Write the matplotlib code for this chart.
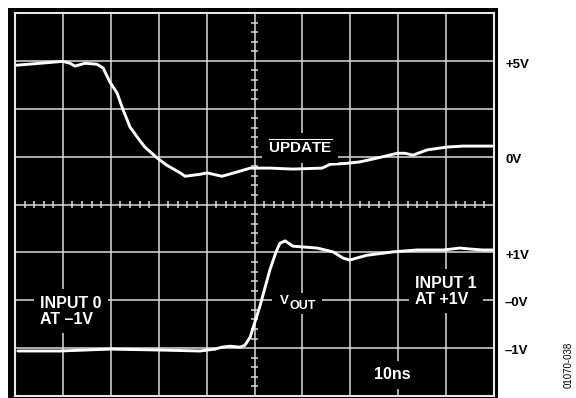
import matplotlib.pyplot as plt
import matplotlib.patches as patches
import numpy as np

plt.rcParams['font.family'] = ['Liberation Sans', 'DejaVu Sans']
plt.rcParams['mathtext.fontset'] = 'custom'
plt.rcParams['mathtext.bf'] = 'Liberation Sans:bold'
plt.rcParams['mathtext.rm'] = 'Liberation Sans'

# time in ns (10 ns/div), amplitude in screen divisions (0..8 from bottom)
update_t = [0.4, 5.2, 10.0, 11.5, 12.5, 14.6, 17.1, 18.4, 19.8, 21.3, 22.6, 24.0,
            25.5, 27.1, 29.7, 31.7, 34.5, 35.5, 38.6, 40.1, 43.2, 46.4, 49.1, 53.2,
            58.0, 64.1, 65.8, 69.3, 72.0, 75.6, 79.8, 81.4, 83.1, 86.0, 90.2, 93.5, 99.6]
update_v = [6.91, 6.95, 6.99, 6.95, 6.89, 6.95, 6.93, 6.85, 6.56, 6.33, 5.97, 5.62,
            5.41, 5.20, 4.97, 4.82, 4.66, 4.59, 4.63, 4.66, 4.59, 4.68, 4.76, 4.76,
            4.74, 4.76, 4.84, 4.86, 4.89, 4.97, 5.07, 5.07, 5.03, 5.14, 5.20, 5.22, 5.22]

vout_t = [0.6, 9.4, 19.8, 30.3, 38.6, 41.8, 43.2, 44.9, 47.0, 48.0, 49.1, 51.2,
          53.2, 54.5, 55.3, 56.4, 58.0, 60.5, 63.1, 66.4, 68.5, 69.9, 72.0, 73.5,
          78.9, 83.9, 89.4, 92.9, 95.0, 97.7, 99.8]
vout_v = [0.94, 0.94, 0.98, 0.96, 0.94, 0.98, 1.02, 1.04, 1.02, 1.06, 1.23, 1.90,
          2.63, 3.01, 3.19, 3.24, 3.13, 3.11, 3.09, 3.01, 2.88, 2.84, 2.90, 2.94,
          3.01, 3.05, 3.05, 3.09, 3.07, 3.05, 3.05]

level_labels = ['+5V', '0V', '+1V', '\u20130V', '\u20131V']
level_pos = [6.92, 4.93, 2.92, 1.94, 0.94]

fig = plt.figure(figsize=(5.76, 3.98), dpi=100)
fig.patch.set_facecolor('white')

# black scope screen behind the graticule
fig.add_artist(patches.Rectangle((8 / 576, 0), 490 / 576, 390 / 398,
                                 transform=fig.transFigure, facecolor='black',
                                 edgecolor='none', zorder=0))

ax = fig.add_axes([15 / 576, 2 / 398, 479 / 576, 383 / 398])
ax.set_facecolor('black')
ax.set_xlim(0, 100)
ax.set_ylim(0, 8)
ax.set_xticks(np.arange(0, 101, 10))
ax.set_yticks(np.arange(0, 9, 1))
ax.tick_params(length=0, labelbottom=False, labelleft=False)
ax.grid(True, color='#dcdcdc', linewidth=1.1)
ax.set_axisbelow(True)
for s in ax.spines.values():
    s.set_color('#e8e8e8')
    s.set_linewidth(1.5)

# minor graticule ticks on the centre lines
mx = [x for x in np.arange(2, 100, 2) if x % 10 != 0]
my = [y for y in np.arange(0.2, 8, 0.2) if abs(y - round(y)) > 0.05]
ax.vlines(mx, 4 - 0.065, 4 + 0.065, color='#dcdcdc', linewidth=1.1, zorder=1)
ax.hlines(my, 50 - 0.65, 50 + 0.65, color='#dcdcdc', linewidth=1.1, zorder=1)

ax.plot(update_t, update_v, color='white', linewidth=2.1, solid_joinstyle='round',
        solid_capstyle='round', zorder=3)
ax.plot(vout_t, vout_v, color='white', linewidth=2.1, solid_joinstyle='round',
        solid_capstyle='round', zorder=3)

box = dict(facecolor='black', edgecolor='none', boxstyle='square,pad=0.4')
tkw = dict(color='white', fontweight='bold', zorder=4)

ax.text(59.5, 5.18, r'$\overline{\mathbf{UPDATE}}$', fontsize=11, ha='center',
        va='center', bbox=box, **tkw)
ax.text(5.2, 1.77, 'INPUT 0\nAT \u20131V', fontsize=11.5, ha='left', va='center',
        linespacing=1.1, bbox=box, **tkw)
ax.text(83.5, 2.19, 'INPUT 1\nAT +1V', fontsize=11.5, ha='left', va='center',
        linespacing=1.1, bbox=box, **tkw)
ax.text(78.7, 0.44, '10ns', fontsize=11.5, ha='center', va='center', bbox=box, **tkw)

# V_OUT label: one black backing box, then V and subscript OUT
ax.add_patch(patches.Rectangle((53.7, 1.71), 10.4, 0.44, facecolor='black',
                               edgecolor='none', zorder=3.5))
ax.text(55.4, 1.98, 'V', fontsize=9.5, ha='left', va='center', **tkw)
ax.text(57.3, 1.87, 'OUT', fontsize=9, ha='left', va='center', **tkw)

for lab, y in zip(level_labels, level_pos):
    ax.text(102.3, y, lab, fontsize=9.5, fontweight='bold', color='black',
            ha='left', va='center', clip_on=False)

fig.text(569 / 576, 56 / 398, '01070-038', rotation=90, fontsize=7,
         ha='center', va='top', color='black')

fig.savefig('out.png', dpi=100)
